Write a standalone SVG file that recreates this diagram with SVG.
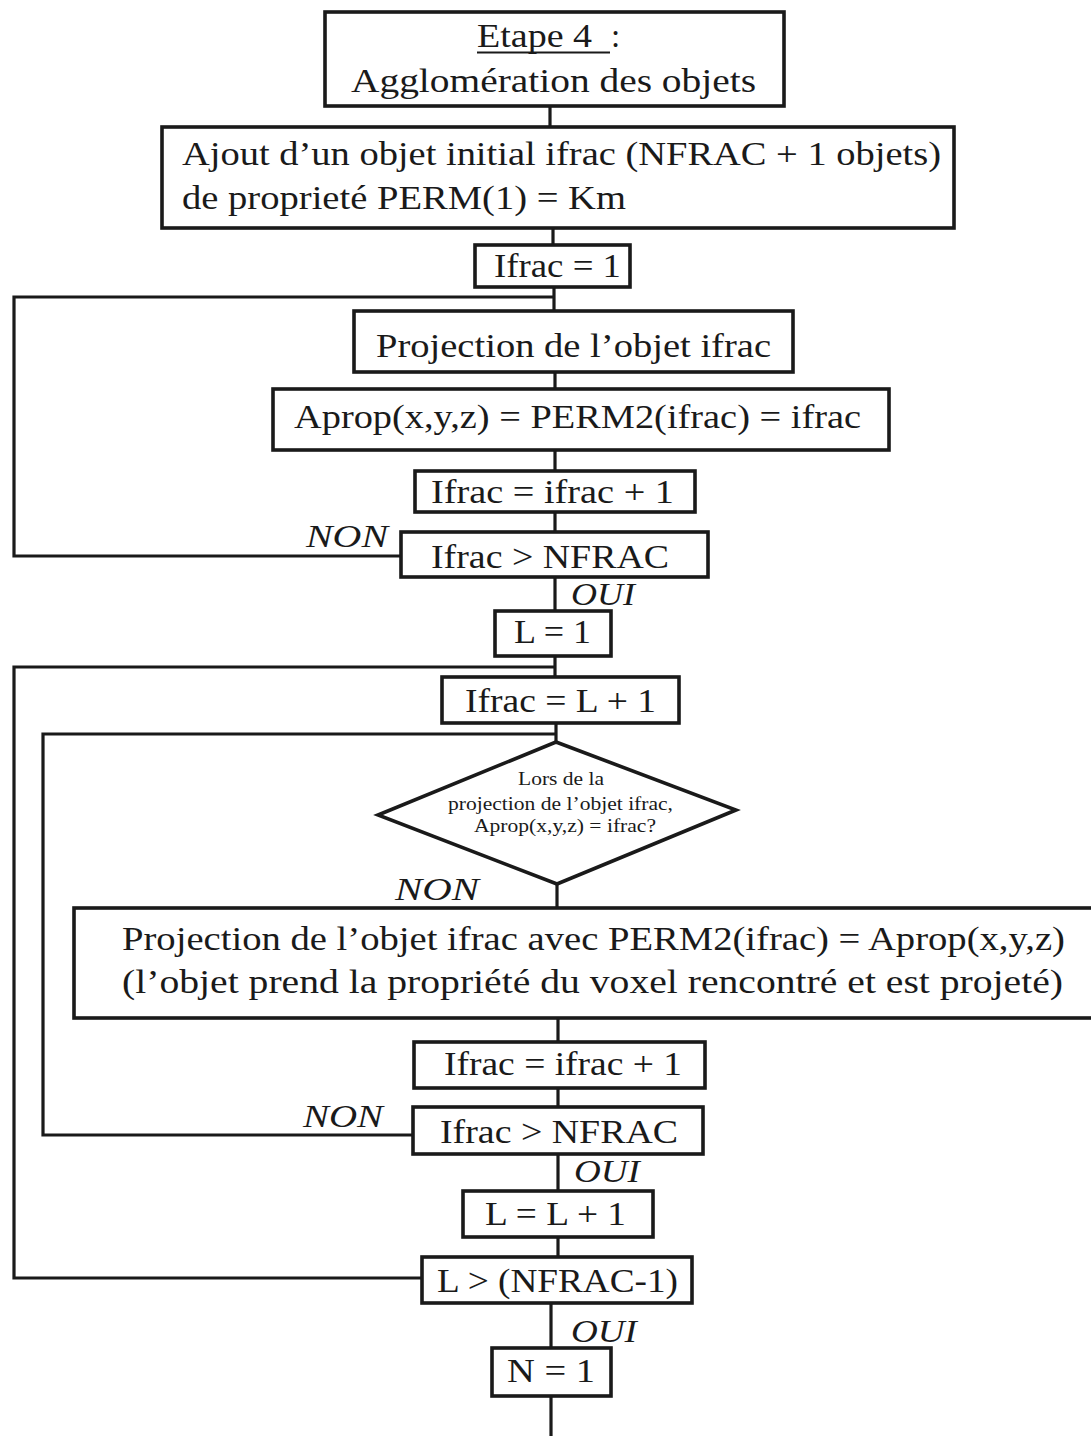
<svg xmlns="http://www.w3.org/2000/svg" width="1091" height="1436" viewBox="0 0 1091 1436">
<style>
.box{fill:#fff;stroke:#1a1a1a;stroke-width:3.6}
.ln{fill:none;stroke:#1a1a1a;stroke-width:3.2}
.t{font-family:"Liberation Serif","Times New Roman",serif;font-size:33px;fill:#1a1a1a}
.s{font-family:"Liberation Serif","Times New Roman",serif;font-size:18px;fill:#1a1a1a}
.i{font-family:"Liberation Serif","Times New Roman",serif;font-size:31px;font-style:italic;fill:#1a1a1a}
</style>
<rect width="1091" height="1436" fill="#fff"/>
<g id="connectors">
<path class="ln" d="M550 106V127"/>
<path class="ln" d="M553 228V245"/>
<path class="ln" d="M554 287V311"/>
<path class="ln" d="M554 297H14V556H401"/>
<path class="ln" d="M555 372V389"/>
<path class="ln" d="M555 450V471"/>
<path class="ln" d="M555 512V532"/>
<path class="ln" d="M555 577V611"/>
<path class="ln" d="M555 656V677"/>
<path class="ln" d="M555 667H14V1278H422"/>
<path class="ln" d="M556 723V742"/>
<path class="ln" d="M556 734H43V1135H413"/>
<path class="ln" d="M557 884V908"/>
<path class="ln" d="M558 1018V1042"/>
<path class="ln" d="M558 1088V1107"/>
<path class="ln" d="M558 1154V1191"/>
<path class="ln" d="M558 1237V1257"/>
<path class="ln" d="M551 1303V1348"/>
<path class="ln" d="M551 1396V1436"/>
</g>
<g id="labels">
<text class="i" x="306" y="547" textLength="82" lengthAdjust="spacingAndGlyphs">NON</text>
<text class="i" x="571" y="605" textLength="64" lengthAdjust="spacingAndGlyphs">OUI</text>
<text class="i" x="395" y="900" textLength="84" lengthAdjust="spacingAndGlyphs">NON</text>
<text class="i" x="303" y="1127" textLength="80" lengthAdjust="spacingAndGlyphs">NON</text>
<text class="i" x="574" y="1182" textLength="66" lengthAdjust="spacingAndGlyphs">OUI</text>
<text class="i" x="571" y="1342" textLength="66" lengthAdjust="spacingAndGlyphs">OUI</text>
</g>
<g id="n1">
<rect class="box" x="325" y="12" width="459" height="94"/>
<text class="t" x="477" y="47" textLength="115" lengthAdjust="spacingAndGlyphs">Etape 4</text>
<line x1="477" y1="52.5" x2="610" y2="52.5" stroke="#1a1a1a" stroke-width="1.8"/>
<text class="t" x="611" y="47">:</text>
<text class="t" x="351" y="92" textLength="405" lengthAdjust="spacingAndGlyphs">Agglomération des objets</text>
</g>
<g id="n2">
<rect class="box" x="162" y="127" width="792" height="101"/>
<text class="t" x="182" y="165" textLength="759" lengthAdjust="spacingAndGlyphs">Ajout d’un objet initial ifrac (NFRAC + 1 objets)</text>
<text class="t" x="182" y="209" textLength="444" lengthAdjust="spacingAndGlyphs">de proprieté PERM(1) = Km</text>
</g>
<g id="n3">
<rect class="box" x="475" y="245" width="155" height="42"/>
<text class="t" x="494" y="277" textLength="127" lengthAdjust="spacingAndGlyphs">Ifrac = 1</text>
</g>
<g id="n4">
<rect class="box" x="354" y="311" width="439" height="61"/>
<text class="t" x="376" y="357" textLength="395" lengthAdjust="spacingAndGlyphs">Projection de l’objet ifrac</text>
</g>
<g id="n5">
<rect class="box" x="273" y="389" width="616" height="61"/>
<text class="t" x="294" y="428" textLength="567" lengthAdjust="spacingAndGlyphs">Aprop(x,y,z) = PERM2(ifrac) = ifrac</text>
</g>
<g id="n6">
<rect class="box" x="415" y="471" width="280" height="41"/>
<text class="t" x="431" y="503" textLength="243" lengthAdjust="spacingAndGlyphs">Ifrac = ifrac + 1</text>
</g>
<g id="n7">
<rect class="box" x="401" y="532" width="307" height="45"/>
<text class="t" x="431" y="568" textLength="238" lengthAdjust="spacingAndGlyphs">Ifrac &gt; NFRAC</text>
</g>
<g id="n8">
<rect class="box" x="495" y="611" width="116" height="45"/>
<text class="t" x="514" y="643" textLength="77" lengthAdjust="spacingAndGlyphs">L = 1</text>
</g>
<g id="n9">
<rect class="box" x="442" y="677" width="237" height="46"/>
<text class="t" x="465" y="712" textLength="191" lengthAdjust="spacingAndGlyphs">Ifrac = L + 1</text>
</g>
<g id="n10">
<polygon class="box" points="556,742 736,810 557,884 378,815"/>
<text class="s" x="518" y="785" textLength="86" lengthAdjust="spacingAndGlyphs">Lors de la</text>
<text class="s" x="448" y="810" textLength="225" lengthAdjust="spacingAndGlyphs">projection de l’objet ifrac,</text>
<text class="s" x="474" y="832" textLength="182" lengthAdjust="spacingAndGlyphs">Aprop(x,y,z) = ifrac?</text>
</g>
<g id="n11">
<rect class="box" x="74" y="908" width="1020" height="110"/>
<text class="t" x="122" y="950" textLength="943" lengthAdjust="spacingAndGlyphs">Projection de l’objet ifrac avec PERM2(ifrac) = Aprop(x,y,z)</text>
<text class="t" x="122" y="993" textLength="941" lengthAdjust="spacingAndGlyphs">(l’objet prend la propriété du voxel rencontré et est projeté)</text>
</g>
<g id="n12">
<rect class="box" x="414" y="1042" width="291" height="46"/>
<text class="t" x="444" y="1075" textLength="238" lengthAdjust="spacingAndGlyphs">Ifrac = ifrac + 1</text>
</g>
<g id="n13">
<rect class="box" x="413" y="1107" width="290" height="47"/>
<text class="t" x="440" y="1143" textLength="238" lengthAdjust="spacingAndGlyphs">Ifrac &gt; NFRAC</text>
</g>
<g id="n14">
<rect class="box" x="463" y="1191" width="190" height="46"/>
<text class="t" x="485" y="1225" textLength="141" lengthAdjust="spacingAndGlyphs">L = L + 1</text>
</g>
<g id="n15">
<rect class="box" x="422" y="1257" width="270" height="46"/>
<text class="t" x="437" y="1292" textLength="241" lengthAdjust="spacingAndGlyphs">L &gt; (NFRAC-1)</text>
</g>
<g id="n16">
<rect class="box" x="492" y="1348" width="119" height="48"/>
<text class="t" x="507" y="1382" textLength="88" lengthAdjust="spacingAndGlyphs">N = 1</text>
</g>
</svg>
